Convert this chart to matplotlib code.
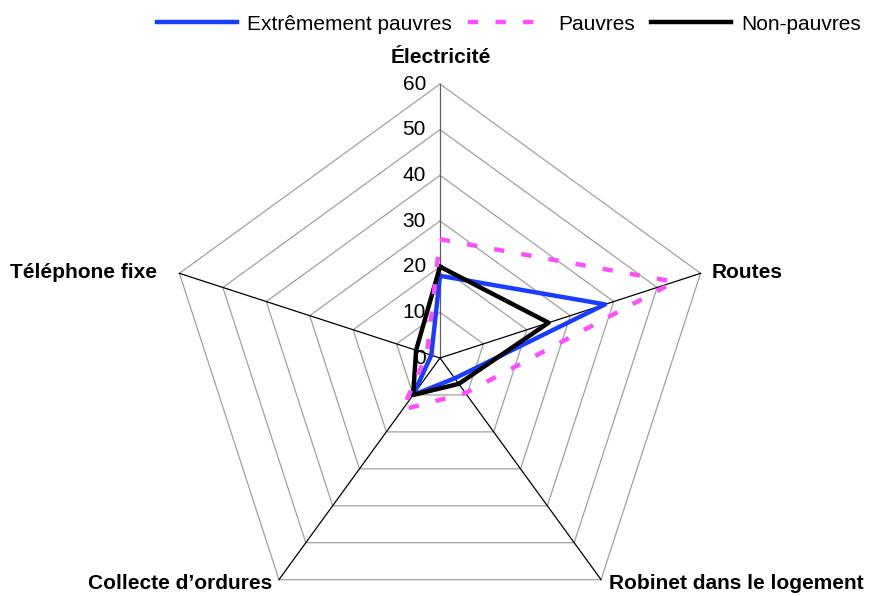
import numpy as np
import matplotlib
matplotlib.use('Agg')
import matplotlib.pyplot as plt
from matplotlib.transforms import offset_copy

plt.rcParams['font.family'] = ['Liberation Sans', 'DejaVu Sans']

# data
categories = ['Électricité', 'Routes', 'Robinet dans le logement', 'Collecte d’ordures', 'Téléphone fixe']
extreme = [18, 38, 5.5, 10, 2]
pauvres = [26, 54, 9.5, 14, 3]
non_pauvres = [20, 25, 7, 10, 5.5]
series_names = ['Extrêmement pauvres', 'Pauvres', 'Non-pauvres']
rings = [0, 10, 20, 30, 40, 50, 60]

W, H = 869, 596
fig = plt.figure(figsize=(W/100, H/100), dpi=100)
cx, cy, R = 440, 358, 274
ax = fig.add_axes([(cx-R)/W, (H-cy-R)/H, 2*R/W, 2*R/H], projection='polar')
ax.set_theta_offset(np.pi/2)
ax.set_theta_direction(-1)
ax.set_ylim(0, 60)
ax.grid(False)
ax.set_xticks([])
ax.set_yticks([])
ax.spines['polar'].set_visible(False)
ax.patch.set_visible(False)

n = len(categories)
theta = np.arange(n) * 2*np.pi/n
closed = np.append(theta, theta[0])

# pentagon grid
for r in rings[1:]:
    ax.plot(closed, [r]*(n+1), color='#a0a0a0', lw=0.9, zorder=1, clip_on=False)
# spokes
for i, t in enumerate(theta):
    c = '#606060' if i == 0 else 'black'
    ax.plot([t, t], [0, 60], color=c, lw=0.9, zorder=2, clip_on=False)

# series
def close(v):
    return list(v) + [v[0]]

l1, = ax.plot(closed, close(extreme), color='#1a3cff', lw=3.2, zorder=3, clip_on=False)
l3, = ax.plot(closed, close(non_pauvres), color='black', lw=3.2, zorder=4, clip_on=False)
l2, = ax.plot(closed, close(pauvres), color='#ff4dff', lw=3.2, dashes=[2.3, 3.9], zorder=5, clip_on=False)

# radial labels
tr = offset_copy(ax.transData, fig=fig, x=-14, y=0, units='dots')
for r in rings:
    ax.text(0, r, str(r), transform=tr, ha='right', va='center', fontsize=15, zorder=6)

# category labels
offsets = [(1, 27), (11, 1), (8, -4), (-7, -4), (-22, 1)]
aligns = ['center', 'left', 'left', 'right', 'right']
for t, lab, off, a in zip(theta, categories, offsets, aligns):
    ax.annotate(lab, xy=(t, 60), xytext=off, textcoords='offset pixels',
                ha=a, va='center', fontsize=15, fontweight='bold', annotation_clip=False)

fig.legend([l1, l2, l3], series_names, loc='center', ncol=3, frameon=False,
           bbox_to_anchor=(509/W, 1-24/H), fontsize=15, handlelength=3.8,
           handletextpad=0.5, columnspacing=0.8, borderaxespad=0)

plt.savefig('out.png', dpi=100)
